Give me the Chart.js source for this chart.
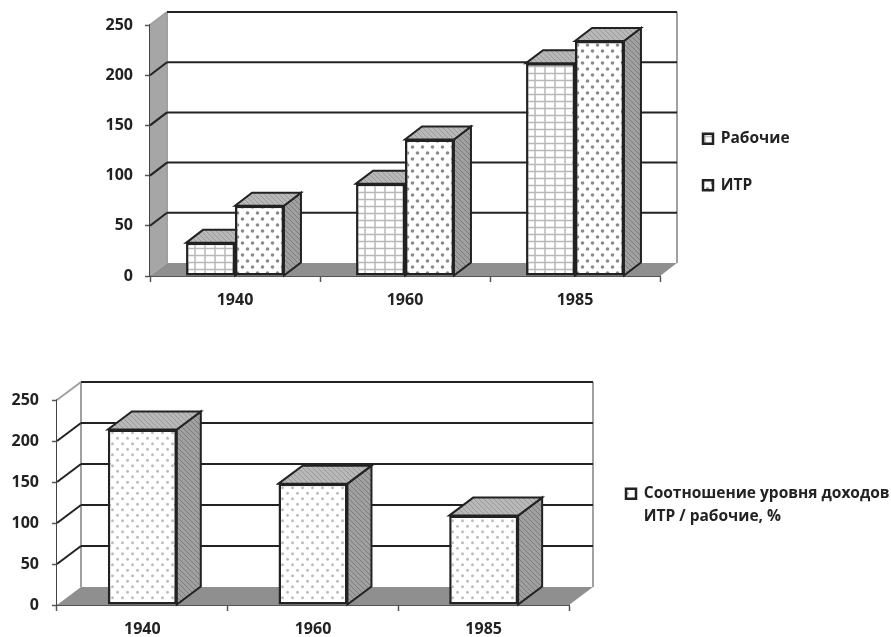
<!DOCTYPE html>
<html>
<head>
<meta charset="utf-8">
<script src="https://cdn.jsdelivr.net/npm/chart.js@4/dist/chart.umd.js"></script>
<style>
    html, body { margin: 0; padding: 0; background: #fff; }
    canvas { position: absolute; left: 0; }
</style>
</head>
<body>
<canvas id="incomeChart" width="891" height="320" style="top:0;width:891px;height:320px"></canvas>
<canvas id="ratioChart" width="891" height="317" style="top:320px;width:891px;height:317px"></canvas>
<script>
const years = ['1940', '1960', '1985'];
const workers = [33, 92, 212];
const engineers = [70, 136, 234];
const ratio = [214, 148, 109];
const yTicks = [0, 50, 100, 150, 200, 250];

const labelFont = { family: '"Open Sans"', size: 16, weight: '700' };
const legendFont = { family: '"Open Sans"', size: 15.5, weight: '700', lineHeight: 1.5 };
const inkColor = '#222222';
const lineColor = '#222222';
const wallLine = '#a0a0a0';

function makePattern(w, h, draw) {
    const c = document.createElement('canvas');
    c.width = w;
    c.height = h;
    const g = c.getContext('2d');
    draw(g);
    return g.createPattern(c, 'repeat');
}

function dots(color, w, h, r) {
    return makePattern(w, h, g => {
        g.fillStyle = '#ffffff';
        g.fillRect(0, 0, w, h);
        g.fillStyle = color;
        [[w / 4, h / 4], [w * 3 / 4, h * 3 / 4]].forEach(p => {
            g.beginPath();
            g.arc(p[0], p[1], r, 0, Math.PI * 2);
            g.fill();
        });
    });
}

function hatch(base, stripe) {
    return makePattern(5, 5, g => {
        g.fillStyle = base;
        g.fillRect(0, 0, 5, 5);
        g.strokeStyle = stripe;
        g.lineWidth = 1;
        g.beginPath();
        g.moveTo(-1, -1);
        g.lineTo(6, 6);
        g.stroke();
    });
}

const gridFill = makePattern(10, 7, g => {
    g.fillStyle = '#ffffff';
    g.fillRect(0, 0, 10, 7);
    g.strokeStyle = '#b8b8b8';
    g.lineWidth = 1.5;
    g.beginPath();
    g.moveTo(5, 0);
    g.lineTo(5, 7);
    g.moveTo(0, 3.5);
    g.lineTo(10, 3.5);
    g.stroke();
});
const dotFill = dots('#8a8a8a', 10, 12, 1.8);
const paleDotFill = dots('#bdbdbd', 10, 11, 1.5);
const sideFill = hatch('#a0a0a0', '#7c7c7c');
const topFill = hatch('#b8b8b8', '#9a9a9a');

function poly(ctx, pts, fill, stroke, width) {
    ctx.beginPath();
    pts.forEach((p, i) => i ? ctx.lineTo(p[0], p[1]) : ctx.moveTo(p[0], p[1]));
    ctx.closePath();
    if (fill) {
        ctx.fillStyle = fill;
        ctx.fill();
    }
    if (stroke) {
        ctx.strokeStyle = stroke;
        ctx.lineWidth = width;
        ctx.stroke();
    }
}

function segment(ctx, x1, y1, x2, y2, color, width) {
    ctx.beginPath();
    ctx.moveTo(x1, y1);
    ctx.lineTo(x2, y2);
    ctx.strokeStyle = color;
    ctx.lineWidth = width;
    ctx.stroke();
}

// the box behind the bars and the side and top faces of every bar
const depthBox = {
    id: 'depthBox',
    afterLayout(chart, args, opts) {
        // legend sits in the chart area for layout, move it out to the right
        const legend = chart.legend;
        legend.left = opts.legendX;
        legend.top = opts.legendY;
        legend.right = chart.width;
        legend.bottom = chart.height;
    },
    beforeDatasetsDraw(chart, args, opts) {
        const ctx = chart.ctx;
        const a = chart.chartArea;
        const dx = opts.dx, dy = opts.dy;
        const yScale = chart.scales.y;
        ctx.save();

        poly(ctx, [[a.left, a.bottom], [a.left + dx, a.bottom - dy], [a.left + dx, a.top - dy], [a.left, a.top]], opts.wallFill, null);
        poly(ctx, [[a.left, a.bottom], [a.left + dx, a.bottom - dy], [a.right + dx, a.bottom - dy], [a.right, a.bottom]], '#8f8f8f', null);

        segment(ctx, a.left + dx, a.bottom - dy, a.left + dx, a.top - dy, wallLine, 2);
        segment(ctx, a.right + dx, a.bottom - dy, a.right + dx, a.top - dy, wallLine, 2);
        segment(ctx, a.left, a.top, a.left + dx, a.top - dy, wallLine, 2);

        yScale.ticks.forEach(t => {
            const y = yScale.getPixelForValue(t.value);
            if (t.value > 0) {
                segment(ctx, a.left + dx, y - dy, a.right + dx, y - dy, lineColor, 2);
            }
            if (t.value > 0 && t.value < 250) {
                segment(ctx, a.left, y, a.left + dx, y - dy, lineColor, 2);
            }
        });

        chart.data.datasets.forEach((ds, i) => {
            chart.getDatasetMeta(i).data.forEach(bar => {
                const left = bar.x - bar.width / 2;
                const right = bar.x + bar.width / 2;
                poly(ctx, [[right, bar.y], [right + dx, bar.y - dy], [right + dx, bar.base - dy], [right, bar.base]], sideFill, lineColor, 2);
                poly(ctx, [[left, bar.y], [left + dx, bar.y - dy], [right + dx, bar.y - dy], [right, bar.y]], topFill, lineColor, 2);
            });
        });
        ctx.restore();
    }
};

function makeChart(id, datasets, cfg) {
    return new Chart(document.getElementById(id), {
        type: 'bar',
        data: { labels: years, datasets: datasets },
        plugins: [depthBox],
        options: {
            responsive: false,
            animation: false,
            layout: { padding: { left: 0, top: cfg.top, right: cfg.right, bottom: 0 } },
            datasets: { bar: { barPercentage: 1, categoryPercentage: cfg.barShare } },
            scales: {
                x: {
                    afterFit: s => { s.height = cfg.xHeight; },
                    grid: { drawOnChartArea: false, tickLength: 6, tickWidth: 1.5, tickColor: '#555555', offset: true },
                    border: { color: '#555555', width: 2 },
                    ticks: { padding: 9, color: inkColor, font: labelFont, maxRotation: 0 }
                },
                y: {
                    min: 0,
                    max: 250,
                    afterFit: s => { s.width = cfg.yWidth; },
                    afterBuildTicks: s => { s.ticks = yTicks.map(v => ({ value: v })); },
                    grid: { drawOnChartArea: false, tickLength: 5, tickWidth: 1.5, tickColor: '#555555' },
                    border: { color: '#444444', width: 2 },
                    ticks: { padding: cfg.yPad, color: inkColor, font: labelFont }
                }
            },
            plugins: {
                tooltip: { enabled: false },
                depthBox: { dx: cfg.dx, dy: cfg.dy, wallFill: cfg.wallFill, legendX: cfg.legendX, legendY: cfg.legendY },
                legend: {
                    position: 'chartArea',
                    align: 'start',
                    labels: {
                        boxWidth: 10,
                        boxHeight: 10,
                        padding: 31,
                        color: inkColor,
                        font: legendFont
                    }
                }
            }
        }
    });
}

makeChart('incomeChart', [
    { label: 'Рабочие', data: workers, backgroundColor: gridFill, borderColor: lineColor, borderWidth: 2.5, borderSkipped: false },
    { label: 'ИТР', data: engineers, backgroundColor: dotFill, borderColor: lineColor, borderWidth: 2.5, borderSkipped: false }
], { top: 25, right: 231, xHeight: 44, yWidth: 150, yPad: 12, barShare: 0.576, dx: 17, dy: 13, wallFill: '#a6a6a6', legendX: 672, legendY: 100 });

makeChart('ratioChart', [
    { label: ['Соотношение уровня доходов', 'ИТР / рабочие, %'], data: ratio, backgroundColor: paleDotFill, borderColor: lineColor, borderWidth: 2.5, borderSkipped: false }
], { top: 80, right: 322, xHeight: 32, yWidth: 57, yPad: 13, barShare: 0.404, dx: 24, dy: 18, wallFill: '#ffffff', legendX: 595, legendY: 135 });
</script>
</body>
</html>
